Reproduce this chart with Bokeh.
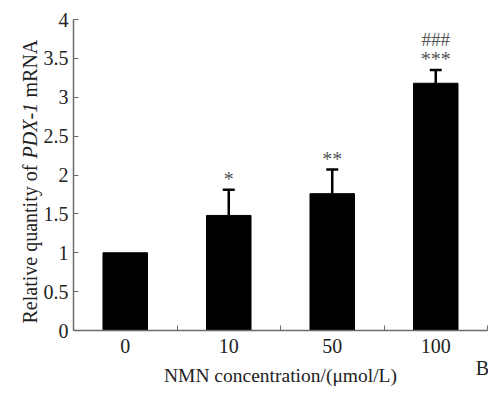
import math
from bokeh.plotting import figure
from bokeh.models import ColumnDataSource, FixedTicker, Label, Whisker, TeeHead
from bokeh.core.properties import value
from bokeh.embed import file_html
from bokeh.resources import INLINE

categories = ["0", "10", "50", "100"]
means = [1.00, 1.48, 1.76, 3.18]
errors = [0.0, 0.33, 0.31, 0.17]
stars = ["", "*", "**", "***"]
hashes = ["", "", "", "###"]
y_ticks = [0, 0.5, 1, 1.5, 2, 2.5, 3, 3.5, 4]
y_tick_labels = ["0", "0.5", "1", "1.5", "2", "2.5", "3", "3.5", "4"]

n = len(categories)
xs = [i + 0.5 for i in range(n)]
tops = [m + e for m, e in zip(means, errors)]
src = ColumnDataSource(dict(x=xs, m=means, top=tops, stars=stars, hashes=hashes))

FONT = "Liberation Serif"
AXC = "#6a6a6a"
TXT = "#222222"

# frame covers the whole canvas; axes are drawn at fixed data locations
W, H = 488, 400
px_left, px_right, px_top, px_bottom = 73, 487, 19, 330
ux = (px_right - px_left) / n
uy = (px_bottom - px_top) / 4.0

p = figure(width=W, height=H, output_backend="svg", toolbar_location=None,
           x_range=(-px_left / ux, (W - px_left) / ux),
           y_range=(-(H - px_bottom) / uy, px_bottom / uy),
           min_border=0)
p.outline_line_color = None
p.xgrid.grid_line_color = None
p.ygrid.grid_line_color = None
p.background_fill_color = "white"

p.vbar(x="x", top="m", bottom=0, width=0.43, source=src, fill_color="black", line_color="black")

wsrc = ColumnDataSource(dict(x=xs[1:], lo=means[1:], hi=tops[1:]))
w = Whisker(base="x", lower="lo", upper="hi", source=wsrc, dimension="height",
            line_color="black", line_width=2.5,
            upper_head=TeeHead(size=12, line_color="black", line_width=2.5), lower_head=None)
p.add_layout(w)

p.text(x="x", y="top", text="stars", source=src, text_align="center", text_baseline="middle",
       y_offset=-11, text_font=value(FONT), text_font_size="20px", text_color="#555555")
p.text(x="x", y="top", text="hashes", source=src, text_align="center", text_baseline="middle",
       y_offset=-31, text_font=value(FONT), text_font_size="19px", text_color="#555555")

# x axis
xa = p.xaxis[0]
xa.fixed_location = 0
xa.bounds = (0, n)
xa.ticker = FixedTicker(ticks=xs, minor_ticks=list(range(1, n + 1)))
xa.major_label_overrides = {x: c for x, c in zip(xs, categories)}
xa.major_tick_in = 0
xa.major_tick_out = 0
xa.minor_tick_in = 5
xa.minor_tick_out = 0
xa.minor_tick_line_color = AXC
xa.axis_line_color = AXC
xa.axis_line_width = 1.5
xa.major_label_text_font = FONT
xa.major_label_text_font_size = "20px"
xa.major_label_text_color = TXT
xa.major_label_standoff = 8
xa.axis_label = "NMN concentration/(\u03bcmol/L)"
xa.axis_label_text_font = FONT
xa.axis_label_text_font_style = "normal"
xa.axis_label_text_font_size = "19.5px"
xa.axis_label_text_color = TXT
xa.axis_label_standoff = 9

# y axis
ya = p.yaxis[0]
ya.fixed_location = 0
ya.bounds = (0, 4)
ya.ticker = FixedTicker(ticks=y_ticks, minor_ticks=[])
ya.major_label_overrides = {t: l for t, l in zip(y_ticks, y_tick_labels)}
ya.major_tick_in = 5
ya.major_tick_out = 0
ya.minor_tick_in = 0
ya.minor_tick_out = 0
ya.major_tick_line_color = AXC
ya.axis_line_color = AXC
ya.axis_line_width = 1.5
ya.major_label_text_font = FONT
ya.major_label_text_font_size = "20px"
ya.major_label_text_color = TXT
ya.major_label_standoff = 5

# y-axis title with italic gene name (three pieces, laid end to end)
lx = (29 - px_left) / ux
lab_kw = dict(angle=math.pi / 2, text_align="left", text_baseline="alphabetic",
              text_font=FONT, text_font_size="20px", text_color=TXT)
p.add_layout(Label(x=lx, y=(px_bottom - 323) / uy, text="Relative quantity of", **lab_kw))
p.add_layout(Label(x=lx, y=(px_bottom - 158) / uy, text="PDX-1", text_font_style="italic", **lab_kw))
p.add_layout(Label(x=lx, y=(px_bottom - 97) / uy, text="mRNA", **lab_kw))
p.add_layout(Label(x=(482 - px_left) / ux, y=(px_bottom - 367) / uy, text="B",
                   text_align="center", text_baseline="middle", text_font=FONT,
                   text_font_size="20px", text_color=TXT))

open("out.html", "w").write(file_html(p, INLINE))
